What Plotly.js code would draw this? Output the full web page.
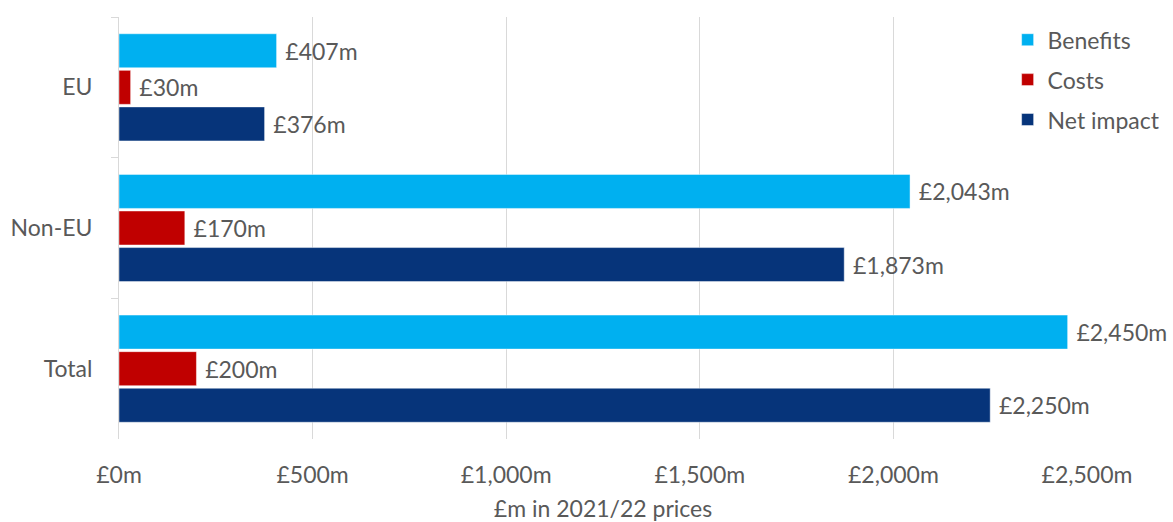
<!DOCTYPE html>
<html>
<head>
<meta charset="utf-8">
<script src="https://cdn.plot.ly/plotly-3.0.1.min.js"></script>
<style>html,body{margin:0;padding:0;background:#fff;}#chart{width:1173px;height:522px;}</style>
</head>
<body>
<div id="chart"></div>
<script>
const categories = ["EU", "Non-EU", "Total"];
const benefits = [407, 2043, 2450];
const costs = [30, 170, 200];
const netImpact = [376, 1873, 2250];
const seriesNames = ["Benefits", "Costs", "Net impact"];
const seriesColors = ["#00B0F0", "#C00000", "#06347A"];
const xTickVals = [0, 500, 1000, 1500, 2000, 2500];
const xTickText = ["£0m", "£500m", "£1,000m", "£1,500m", "£2,000m", "£2,500m"];

const FONT = "Lato, 'Open Sans', sans-serif";
const TXT = "#595959";
const FS = 23;

const seriesValues = [benefits, costs, netImpact];
const traces = seriesValues.map((vals, i) => ({
  type: "bar",
  orientation: "h",
  name: seriesNames[i],
  legendgroup: "g" + i,
  x: vals,
  y: categories,
  marker: {color: seriesColors[i], line: {color: "rgba(255,255,255,0.45)", width: 1}},
  texttemplate: "\u2009\u2009£%{x:,.0f}m",
  textposition: "outside",
  cliponaxis: false,
  textfont: {family: FONT, size: FS, color: TXT},
  hoverinfo: "none"
}));

const layout = {
  width: 1173,
  height: 522,
  margin: {l: 119, r: 86, t: 17, b: 83, autoexpand: false},
  paper_bgcolor: "#ffffff",
  plot_bgcolor: "#ffffff",
  font: {family: FONT, size: FS, color: TXT},
  barmode: "group",
  bargap: 0.22,
  bargroupgap: 0.07,
  showlegend: true,
  legend: {
    x: 0.918, y: 0.997, xanchor: "left", yanchor: "top",
    bgcolor: "rgba(0,0,0,0)",
    traceorder: "grouped",
    tracegroupgap: 7,
    itemwidth: 30,
    font: {family: FONT, size: FS, color: TXT}
  },
  xaxis: {
    range: [0, 2500],
    tickvals: xTickVals,
    ticktext: xTickText,
    showgrid: true,
    gridcolor: "#d9d9d9",
    gridwidth: 1,
    zeroline: false,
    showline: false,
    ticks: "",
    ticklabelstandoff: 20,
    tickfont: {family: FONT, size: FS, color: TXT},
    title: {text: "£m in 2021/22 prices", standoff: 20, font: {family: FONT, size: FS, color: TXT}}
  },
  yaxis: {
    autorange: "reversed",
    type: "category",
    showline: true,
    linecolor: "#d9d9d9",
    linewidth: 1,
    ticks: "outside",
    tickson: "boundaries",
    ticklen: 7,
    tickcolor: "#d9d9d9",
    showgrid: false,
    ticklabelstandoff: 21,
    tickfont: {family: FONT, size: FS, color: TXT}
  }
};

Plotly.newPlot("chart", traces, layout, {displayModeBar: false, staticPlot: true});
</script>
</body>
</html>
